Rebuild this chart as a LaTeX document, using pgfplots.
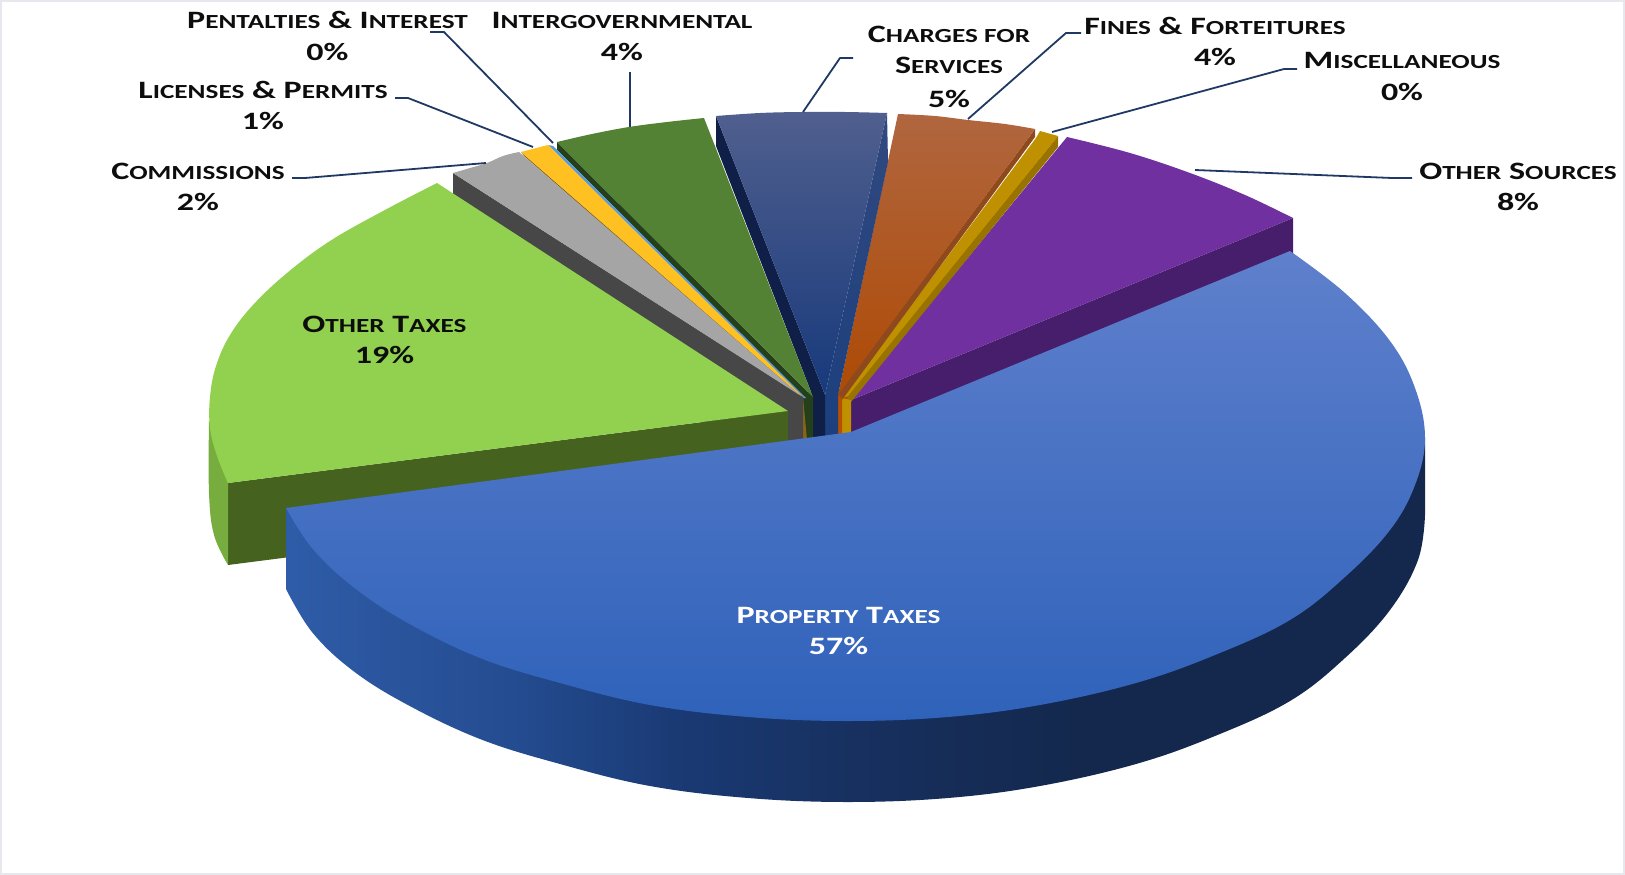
\documentclass[border=0pt]{standalone}
\usepackage{fontspec}
\setmainfont[FakeStretch=1.36]{Carlito}
\usepackage{pgfplots}
\pgfplotsset{compat=1.18}
\definecolor{frameGrey}{HTML}{E6E8EE}
\definecolor{leader}{HTML}{1F3864}
\definecolor{ink}{HTML}{0D0D0D}
\definecolor{purpleSide}{HTML}{461E6B}
\definecolor{purpleTop}{HTML}{7030A0}
\definecolor{goldSide}{HTML}{997300}
\definecolor{goldTop}{HTML}{BF9000}
\definecolor{orangeEdge}{HTML}{8E4A1C}
\definecolor{orangeA}{HTML}{B0663F}
\definecolor{orangeB}{HTML}{A84A10}
\definecolor{orangeC}{HTML}{AE4A05}
\definecolor{orangeFoot}{HTML}{B84E00}
\definecolor{navyStripA}{HTML}{31497F}
\definecolor{navyStripB}{HTML}{1B3F7E}
\definecolor{navySide}{HTML}{0F1F47}
\definecolor{navyA}{HTML}{505F8E}
\definecolor{navyB}{HTML}{2D4A86}
\definecolor{navyC}{HTML}{17397B}
\definecolor{forestSide}{HTML}{23401A}
\definecolor{forestTop}{HTML}{548235}
\definecolor{skyTop}{HTML}{5B9BD5}
\definecolor{amberSide}{HTML}{8A6414}
\definecolor{amberTop}{HTML}{FFC022}
\definecolor{greySide}{HTML}{474747}
\definecolor{greyTop}{HTML}{A5A5A5}
\definecolor{limeFront}{HTML}{46621F}
\definecolor{limeRim}{HTML}{77AC3E}
\definecolor{limeTop}{HTML}{92D050}
\definecolor{rimA}{HTML}{2F5CA8}
\definecolor{rimAB}{HTML}{244C90}
\definecolor{rimB}{HTML}{1A3A75}
\definecolor{rimBC}{HTML}{17305F}
\definecolor{rimC}{HTML}{14284D}
\definecolor{blueA}{HTML}{5F80CC}
\definecolor{blueB}{HTML}{3F6EC8}
\definecolor{blueC}{HTML}{2F62BA}
% rim of the large slice: the path maps onto 25bp--75bp of the shading
\pgfdeclarehorizontalshading{rimshade}{100bp}{
  color(0bp)=(rimA); color(25bp)=(rimA); color(35bp)=(rimAB); color(42bp)=(rimB);
  color(50bp)=(rimBC); color(60bp)=(rimC); color(100bp)=(rimC)}
\newcommand{\sm}[1]{{\fontsize{20}{30}\selectfont\MakeUppercase{#1}}}
\tikzset{
  slabel/.style={font=\fontsize{25}{30}\selectfont\bfseries, text=ink, inner sep=0pt, anchor=base},
  wlabel/.style={slabel, text=white},
  lead/.style={draw=leader, line width=1.8pt, line join=round}
}
\begin{document}
\begin{tikzpicture}
\begin{axis}[
  at={(0,0)}, anchor=south west,
  scale only axis, width=1625pt, height=875pt,
  xmin=0, xmax=1625, ymin=0, ymax=875, y dir=reverse,
  hide axis, clip=true, tension=0.63
]
% page frame
\addplot[draw=frameGrey, line width=4pt] coordinates {(0,0)(1625,0)(1625,875)(0,875)(0,0)};

% dark core behind the narrow slices, where they meet near the centre
\addplot[fill=forestSide, draw=none] coordinates {(800,392)(814,392)(814,440)(800,440)} -- cycle;
\addplot[fill=orangeFoot, draw=none] coordinates {(838,392)(851,398)(851,440)(838,440)} -- cycle;

% Other Sources
\addplot[fill=purpleSide, draw=none] coordinates {(851,400)(1293,218)(1293,299)(851,481)} -- cycle;
\addplot[fill=purpleTop, draw=none, smooth] coordinates {(1067,137)(1130,153)(1190,173)(1245,195)(1293,218)} -- (axis cs:851,400) -- cycle;

% Miscellaneous
\addplot[fill=goldSide, draw=none] coordinates {(1058,136)(1058,147)(851,402)(846,396)} -- cycle;
\addplot[fill=goldTop, draw=none] coordinates {(1040,131)(1058,136)(848,396)(842,398)(1036,138)} -- cycle;
\addplot[fill=goldTop, draw=none] coordinates {(842,398)(851,400)(851,440)(842,440)} -- cycle;

% Fines and forfeitures
\addplot[fill=orangeEdge, draw=none] coordinates {(1035,129)(1035,137)(842,400)(838,394)} -- cycle;
\addplot[top color=orangeA, middle color=orangeB, bottom color=orangeC, draw=none, smooth] coordinates {(898,114)(935,116)(968,120)(1005,124)(1035,129)} -- (axis cs:838,395) -- cycle;
\addplot[fill=orangeFoot, draw=none] coordinates {(837,395)(842,398)(842,440)(837,440)} -- cycle;

% Charges for services
\addplot[top color=navyStripA, bottom color=navyStripB, draw=none] coordinates {(887,113)(888,162)(838,395)(838,440)(825,440)(825,395)} -- cycle;
\addplot[fill=navySide, draw=none] coordinates {(716,116)(716,146)(813,397)(813,440)(825,440)(825,395)} -- cycle;
\addplot[top color=navyA, middle color=navyB, bottom color=navyC, draw=none, smooth] coordinates {(716,116)(760,113)(802,112)(845,112)(887,113)} -- (axis cs:825,395) -- cycle;

% Intergovernmental
\addplot[fill=forestSide, draw=none] coordinates {(557,142)(557,150)(805,398)(807,440)(813,440)(813,397)} -- cycle;
\addplot[fill=forestTop, draw=none, smooth] coordinates {(557,142)(592,134)(629,127)(667,122)(704,118)} -- (axis cs:813,397) -- cycle;

% Penalties and interest
\addplot[fill=skyTop, draw=none] coordinates {(548,145)(553,146)(806,398)(803,398)} -- cycle;

% Licenses and permits
\addplot[fill=amberSide, draw=none] coordinates {(521,152)(524,156)(800,398)(803,440)(807,440)(803,397)} -- cycle;
\addplot[fill=amberTop, draw=none] coordinates {(521,152)(548,145)(803,397)(801,396)} -- cycle;

% Commissions
\addplot[fill=greySide, draw=none] coordinates {(453,173)(453,254)(789,480)(803,480)(803,397)} -- cycle;
\addplot[fill=greyTop, draw=none, smooth] coordinates {(453,173)(470,168)(487,163)(503,156)(519,152)} -- (axis cs:801,396) -- cycle;

% Other taxes
\addplot[fill=limeFront, draw=none] coordinates {(228,483)(788,411)(788,493)(228,565)} -- cycle;
\addplot[fill=limeRim, draw=none, smooth] coordinates {(209,420)(209,493)(214,535)(228,565)} -- (axis cs:228,483) -- cycle;
\addplot[fill=limeTop, draw=none, smooth] coordinates {(437,183)(383,211)(330,241)(287,273)(253,305)(230,335)(216,366)(210,397)(210,428)(217,456)(228,483)} -- (axis cs:788,411) -- cycle;

% Property taxes
\addplot[shade, shading=rimshade, draw=none, smooth] coordinates {(1425,515)(1418,560)(1390,610)(1345,658)(1290,701)(1215,736)(1136,764)(1040,786)(948,798)(848,802)(748,798)(650,786)(560,764)(480,739)(406,704)(352,670)(312,632)(286,589)} -- (axis cs:286,508) -- (axis cs:1425,438) -- cycle;
\addplot[top color=blueA, middle color=blueB, bottom color=blueC, draw=none, smooth] coordinates {(1290,251)(1345,293)(1390,341)(1415,388)(1425,438)(1415,485)(1390,530)(1345,577)(1290,620)(1215,655)(1136,683)(1040,705)(948,717)(848,721)(748,717)(650,705)(560,683)(480,658)(406,622)(352,586)(312,548)(286,508)} -- (axis cs:851,432) -- cycle;

% leader lines
\addplot[lead] coordinates {(430,32)(444,32)(553,143)};
\addplot[lead] coordinates {(395,98)(408,98)(533,147)};
\addplot[lead] coordinates {(292,178)(305,178)(486,163)};
\addplot[lead] coordinates {(630,72)(630,127)};
\addplot[lead] coordinates {(853,58)(840,58)(803,112)};
\addplot[lead] coordinates {(1081,33)(1066,33)(968,119)};
\addplot[lead] coordinates {(1297,69)(1284,69)(1052,132)};
\addplot[lead] coordinates {(1412,178)(1392,178)(1195,170)};

% labels
\node[slabel] at (axis cs:327.5,29) {P\sm{entalties} \& I\sm{nterest}};
\node[slabel] at (axis cs:327.5,60) {0\%};
\node[slabel] at (axis cs:622,29) {I\sm{ntergovernmental}};
\node[slabel] at (axis cs:622,60) {4\%};
\node[slabel] at (axis cs:263,98) {L\sm{icenses} \& P\sm{ermits}};
\node[slabel] at (axis cs:263,129) {1\%};
\node[slabel] at (axis cs:198,179) {C\sm{ommissions}};
\node[slabel] at (axis cs:198,210) {2\%};
\node[slabel] at (axis cs:949,43) {C\sm{harges for}};
\node[slabel] at (axis cs:949,74) {S\sm{ervices}};
\node[slabel] at (axis cs:949,107) {5\%};
\node[slabel] at (axis cs:1215,35) {F\sm{ines} \& F\sm{orteitures}};
\node[slabel] at (axis cs:1215,66) {4\%};
\node[slabel] at (axis cs:1402,69) {M\sm{iscellaneous}};
\node[slabel] at (axis cs:1402,100) {0\%};
\node[slabel] at (axis cs:1518,179) {O\sm{ther} S\sm{ources}};
\node[slabel] at (axis cs:1518,210) {8\%};
\node[slabel] at (axis cs:384.5,332) {O\sm{ther} T\sm{axes}};
\node[slabel] at (axis cs:384.5,363) {19\%};
\node[wlabel] at (axis cs:838.5,623) {P\sm{roperty} T\sm{axes}};
\node[wlabel] at (axis cs:838.5,654) {57\%};
\end{axis}
\pgfresetboundingbox
\useasboundingbox (0,0) rectangle (1625pt,875pt);
\end{tikzpicture}
\end{document}
